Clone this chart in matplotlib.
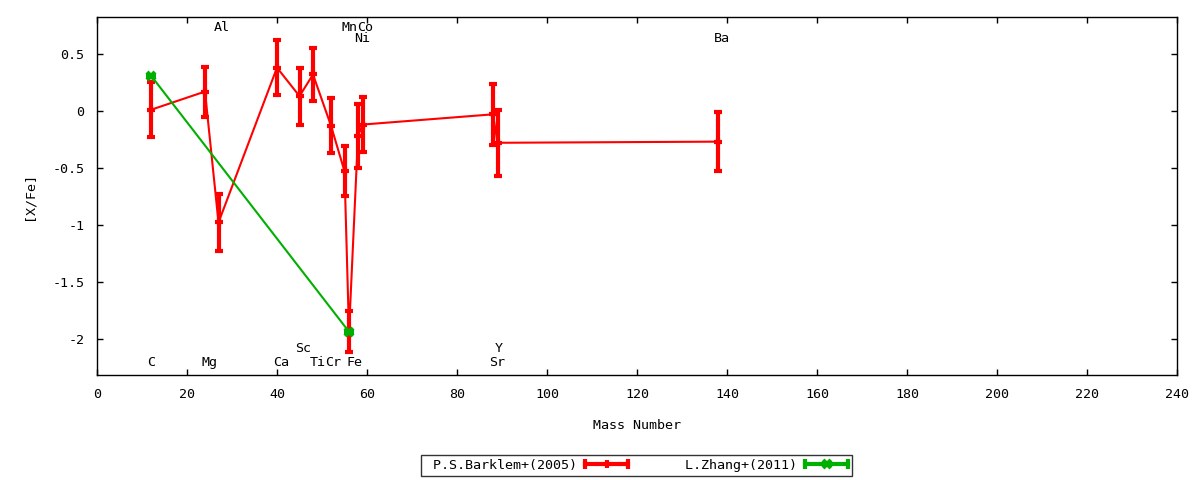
import matplotlib
matplotlib.use("Agg")
import matplotlib.pyplot as plt
from matplotlib.legend_handler import HandlerBase
from matplotlib.lines import Line2D

# ---- data ----
barklem_mass = [12, 24, 27, 40, 45, 48, 52, 55, 56, 58, 59, 88, 89, 138]
barklem_val = [0.01, 0.17, -0.98, 0.38, 0.13, 0.32, -0.13, -0.53, -1.94, -0.22, -0.12, -0.03, -0.28, -0.27]
barklem_err = [0.24, 0.22, 0.25, 0.24, 0.25, 0.23, 0.24, 0.22, 0.18, 0.28, 0.24, 0.27, 0.29, 0.26]

zhang_mass = [12, 56]
zhang_val = [0.31, -1.94]
zhang_err = [0.0, 0.0]

elem_names = ["C", "Mg", "Al", "Ca", "Sc", "Ti", "Cr", "Mn", "Fe", "Ni", "Co", "Sr", "Y", "Ba"]
elem_label_x = [12.1, 25.0, 27.8, 41.0, 45.8, 49.0, 52.5, 56.1, 57.2, 59.0, 59.5, 88.9, 89.3, 138.9]
elem_label_y = [-2.21, -2.21, 0.73, -2.21, -2.09, -2.21, -2.21, 0.73, -2.21, 0.64, 0.73, -2.21, -2.09, 0.64]

x_ticks = list(range(0, 241, 20))
y_ticks = [-2, -1.5, -1, -0.5, 0, 0.5]

series_names = [" P.S.Barklem+(2005)", " L.Zhang+(2011)"]

RED = "#ff0000"
GREEN = "#00b000"
FONT = ["DejaVu Sans Mono"]
FS = 9.6

plt.rcParams["font.family"] = FONT
plt.rcParams["font.size"] = FS

fig = plt.figure(figsize=(12, 4.8), dpi=100)
ax = fig.add_axes([97 / 1200, 1 - 375 / 480, 1080 / 1200, 358 / 480])

ax.errorbar(barklem_mass, barklem_val, yerr=barklem_err, color=RED, lw=1.5,
            elinewidth=3, capsize=3.2, capthick=3, marker="+", ms=6, mew=3, zorder=3)
ax.errorbar(zhang_mass, zhang_val, yerr=zhang_err, color=GREEN, lw=1.5,
            elinewidth=3, capsize=3.5, capthick=3, marker="x", ms=6, mew=3, zorder=4)

for name, lx, ly in zip(elem_names, elem_label_x, elem_label_y):
    ax.text(lx, ly, name, ha="center", va="center", fontsize=FS)

ax.set_xlim(0, 240)
ax.set_ylim(-2.32, 0.825)
ax.set_xticks(x_ticks)
ax.set_yticks(y_ticks)
ax.set_yticklabels([("%g" % v) for v in y_ticks])
ax.tick_params(direction="in", length=4.5, width=1, top=True, right=True, pad=9)
for s in ax.spines.values():
    s.set_linewidth(1)
ax.set_xlabel("Mass Number", labelpad=13)
ax.set_ylabel("[X/Fe]", labelpad=12)


class ErrHandler(HandlerBase):
    def __init__(self, color, center):
        super().__init__()
        self.color = color
        self.center = center

    def create_artists(self, legend, orig_handle, xdescent, ydescent, width, height, fontsize, trans):
        y = height / 2 - ydescent
        x0, x1 = -xdescent, width - xdescent
        line = Line2D([x0, x1], [y, y], color=self.color, lw=3)
        caps = Line2D([x0, x1], [y, y], ls="none", marker="|", ms=7, mew=3, color=self.color)
        cm = Line2D([(x0 + x1) / 2], [y], ls="none", marker=self.center, ms=6, mew=3, color=self.color)
        for a in (line, caps, cm):
            a.set_transform(trans)
        return [line, caps, cm]


h1 = Line2D([], [], color=RED)
h2 = Line2D([], [], color=GREEN)
leg = fig.legend([h1, h2], series_names,
                 handler_map={h1: ErrHandler(RED, "|"), h2: ErrHandler(GREEN, "x")},
                 ncol=2, markerfirst=False, loc="center", bbox_to_anchor=(636.5 / 1200, 1 - 465 / 480),
                 frameon=True, fancybox=False, handlelength=3.2, handletextpad=0.6,
                 columnspacing=3.7, borderpad=0.3, borderaxespad=0, fontsize=FS)
leg.get_frame().set_edgecolor("black")
leg.get_frame().set_linewidth(1)

fig.savefig("out.png", dpi=100)
